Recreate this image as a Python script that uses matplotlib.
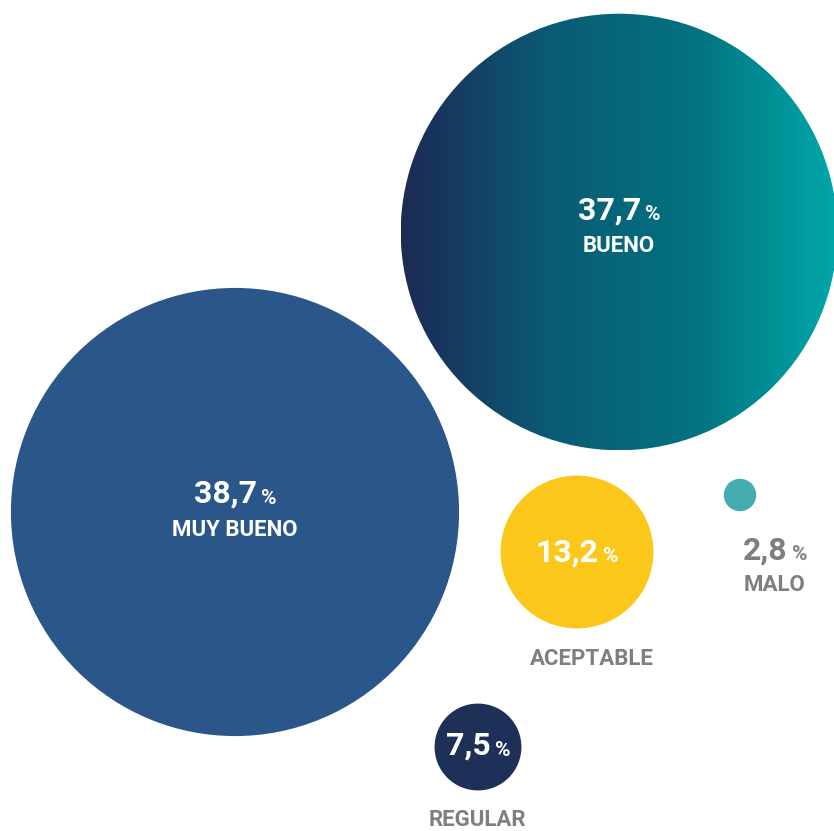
import matplotlib.pyplot as plt
import numpy as np
from matplotlib.patches import Circle
from matplotlib.colors import LinearSegmentedColormap

labels = ['MUY BUENO', 'BUENO', 'ACEPTABLE', 'MALO', 'REGULAR']
values = [38.7, 37.7, 13.2, 2.8, 7.5]

# bubble centres (pixels) and where the texts go
centers = [(235, 512), (619, 232), (577, 552), (740, 495), (478, 747)]
colors = ['#2a568a', None, '#fbc71a', '#44adb0', '#1e2f58']
num_pos = [(235, 494), (619, 211), (577, 553), (775, 551), (478, 746)]
lab_pos = [(235, 530), (619, 246), (592, 659), (775, 585), (477, 820)]
num_white = [True, True, True, False, True]
lab_white = [True, True, False, False, False]
grey = '#7f7f7f'
scale = 5.79  # radius in px per percentage point

plt.rcParams['font.family'] = ['Roboto', 'DejaVu Sans']
fig = plt.figure(figsize=(8.34, 8.31), dpi=100)
ax = fig.add_axes([0, 0, 1, 1])
ax.set_xlim(0, 834)
ax.set_ylim(831, 0)
ax.set_aspect('equal')
ax.axis('off')

for i, v in enumerate(values):
    cx, cy = centers[i]
    r = v * scale
    if colors[i] is None:
        # horizontal gradient navy -> teal, clipped to the circle
        grad = np.linspace(0, 1, 256).reshape(1, -1)
        cmap = LinearSegmentedColormap.from_list('bueno', ['#1c2a55', '#0a5a74', '#037280', '#00a8a9'])
        im = ax.imshow(grad, cmap=cmap, extent=(cx - r, cx + r, cy + r, cy - r),
                       aspect='auto', zorder=1)
        clip = Circle((cx, cy), r, transform=ax.transData, facecolor='none', edgecolor='none')
        ax.add_patch(clip)
        im.set_clip_path(clip)
    else:
        ax.add_patch(Circle((cx, cy), r, color=colors[i], zorder=1, lw=0))

fig.canvas.draw()
renderer = fig.canvas.get_renderer()

for i, v in enumerate(values):
    col = 'white' if num_white[i] else grey
    nx, ny = num_pos[i]
    num = ax.text(0, ny, f'{v:.1f}'.replace('.', ','), fontsize=23, fontweight='bold',
                  color=col, ha='left', va='center', zorder=3)
    pct = ax.text(0, ny + 4, '%', fontsize=15, fontweight='bold',
                  color=col, ha='left', va='center', zorder=3)
    w1 = num.get_window_extent(renderer).width
    w2 = pct.get_window_extent(renderer).width
    gap = 4
    left = nx - (w1 + gap + w2) / 2
    num.set_x(left)
    pct.set_x(left + w1 + gap)
    lx, ly = lab_pos[i]
    ax.text(lx, ly, labels[i], fontsize=16, fontweight='bold',
            color='white' if lab_white[i] else grey,
            ha='center', va='center', zorder=3)

fig.savefig('out.png', dpi=100, facecolor='white')
